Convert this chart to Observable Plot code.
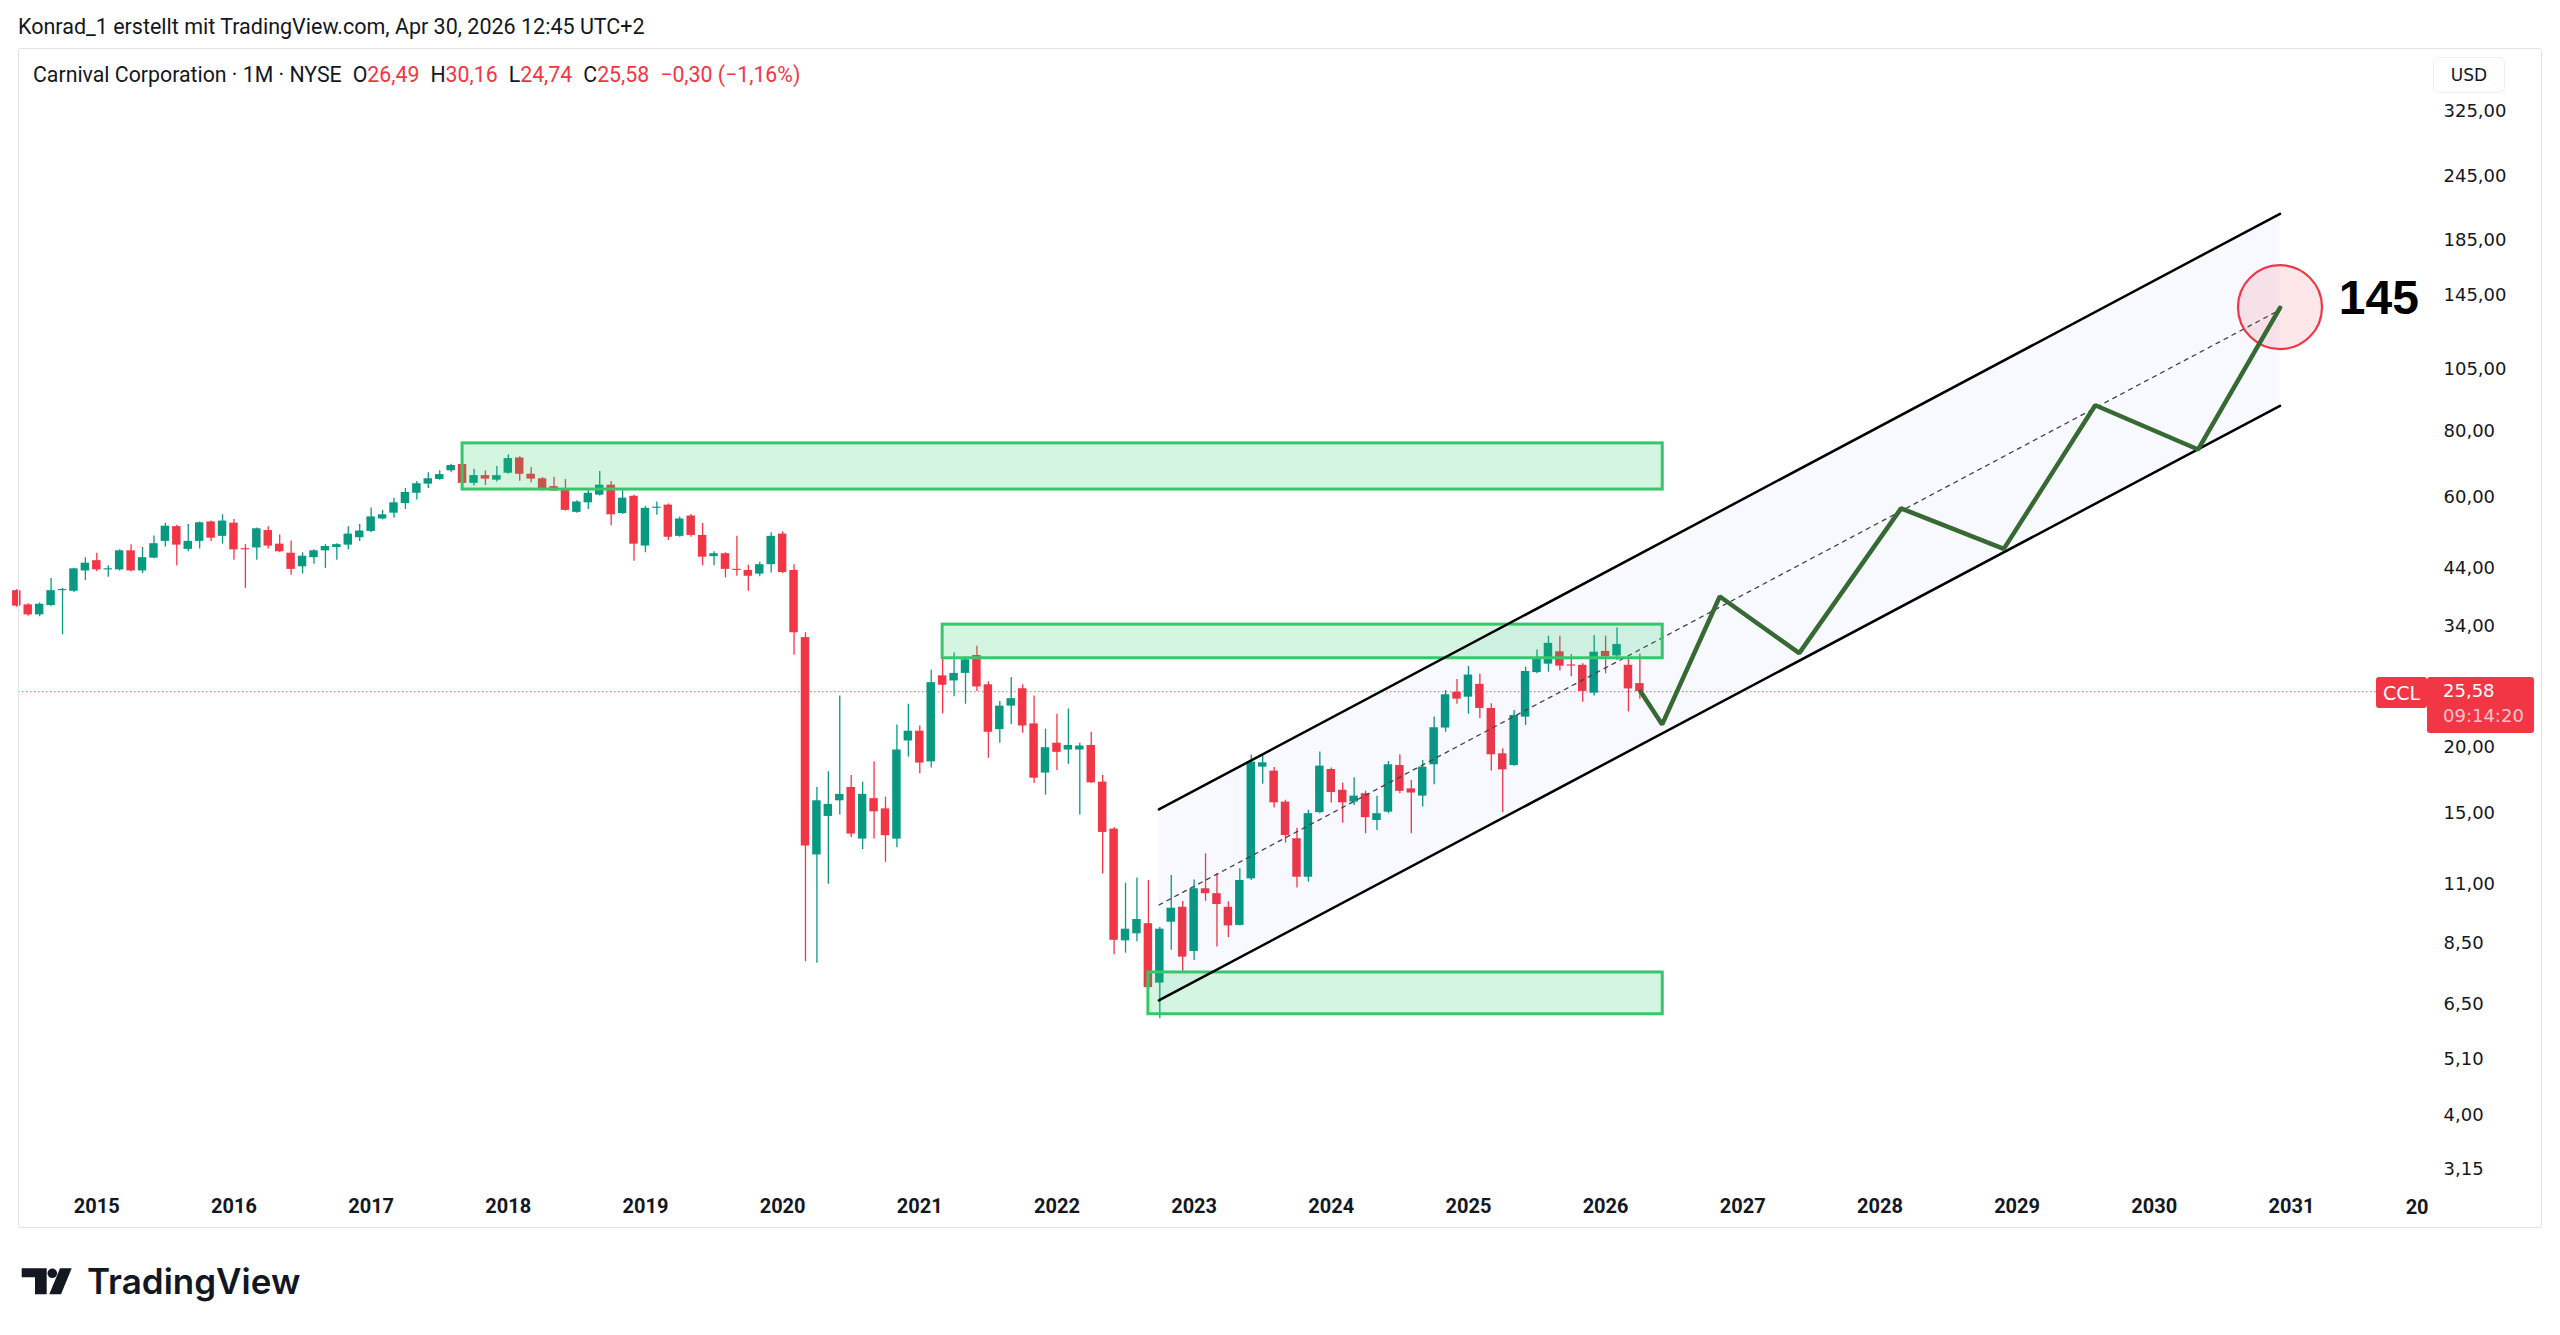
<!DOCTYPE html>
<html lang="de">
<head>
<meta charset="utf-8">
<title>Carnival Corporation · 1M · NYSE</title>
<script src="https://cdn.jsdelivr.net/npm/d3@7"></script>
<script src="https://cdn.jsdelivr.net/npm/@observablehq/plot@0.6"></script>
<style>
  html, body { margin:0; padding:0; background:#fff; }
  body { width:2560px; height:1335px; position:relative; overflow:hidden; font-family: Roboto, "Liberation Sans", sans-serif; color:#131722; }
  #hdr { position:absolute; left:18px; top:14px; font-size:21.5px; line-height:26px; white-space:nowrap; }
  #chart { position:absolute; left:18px; top:48px; }
  #frame { position:absolute; left:18px; top:48px; width:2524px; height:1180px; box-sizing:border-box; border:1px solid #e0e3eb; border-radius:3px; pointer-events:none; }
  #legend { position:absolute; left:33px; top:62px; font-size:21.3px; line-height:26px; white-space:nowrap; }
  #legend .v { color:#f23645; }
  #legend .g { margin-left:11px; }
  #usd { position:absolute; left:2433px; top:57px; width:72px; height:36px; border:1px solid #eceef3; border-radius:6px; box-sizing:border-box; font:17px "DejaVu Sans", sans-serif; display:flex; align-items:center; justify-content:center; background:#fff; color:#131722; }
  .tag { position:absolute; background:#f23645; color:#fff; border-radius:3px; font-family:"DejaVu Sans", sans-serif; font-size:18px; box-sizing:border-box; }
  #ccl { width:51px; height:31px; left:2376px; display:flex; align-items:center; justify-content:center; font-size:19px; }
  #pbox { width:107px; height:56px; left:2427px; padding-left:16px; }
  #pbox .l1 { position:absolute; left:16px; top:3px; line-height:22px; }
  #pbox .l2 { position:absolute; left:16px; top:28px; line-height:22px; color:rgba(255,255,255,0.72); }
  #logo { position:absolute; left:0; top:1260px; }
</style>
</head>
<body>
<div id="hdr">Konrad_1 erstellt mit TradingView.com, Apr 30, 2026 12:45 UTC+2</div>
<div id="chart"></div>
<div id="frame"></div>
<div id="legend"></div>
<div id="usd">USD</div>
<div id="ccl" class="tag">CCL</div>
<div id="pbox" class="tag"><span class="l1"></span><span class="l2">09:14:20</span></div>
<svg id="logo" width="320" height="44" viewBox="0 0 320 44">
  <path d="M21.7 8.3H46.7V34.3H35V17.3H21.7Z" fill="#131722"/>
  <circle cx="52.3" cy="13.3" r="4.8" fill="#131722"/>
  <path d="M60 8.3H71.7L61 34.3H49.3Z" fill="#131722"/>
  <text x="87" y="34.3" font-family="Inter, 'Liberation Sans', sans-serif" font-weight="600" font-size="35" fill="#131722">TradingView</text>
</svg>
<script>
// ---------- monthly candles (CCL, NYSE) ----------
const months = [
  "2014-06","2014-07","2014-08","2014-09","2014-10","2014-11","2014-12",
  "2015-01","2015-02","2015-03","2015-04","2015-05","2015-06","2015-07","2015-08","2015-09","2015-10","2015-11","2015-12",
  "2016-01","2016-02","2016-03","2016-04","2016-05","2016-06","2016-07","2016-08","2016-09","2016-10","2016-11","2016-12",
  "2017-01","2017-02","2017-03","2017-04","2017-05","2017-06","2017-07","2017-08","2017-09","2017-10","2017-11","2017-12",
  "2018-01","2018-02","2018-03","2018-04","2018-05","2018-06","2018-07","2018-08","2018-09","2018-10","2018-11","2018-12",
  "2019-01","2019-02","2019-03","2019-04","2019-05","2019-06","2019-07","2019-08","2019-09","2019-10","2019-11","2019-12",
  "2020-01","2020-02","2020-03","2020-04","2020-05","2020-06","2020-07","2020-08","2020-09","2020-10","2020-11","2020-12",
  "2021-01","2021-02","2021-03","2021-04","2021-05","2021-06","2021-07","2021-08","2021-09","2021-10","2021-11","2021-12",
  "2022-01","2022-02","2022-03","2022-04","2022-05","2022-06","2022-07","2022-08","2022-09","2022-10","2022-11","2022-12",
  "2023-01","2023-02","2023-03","2023-04","2023-05","2023-06","2023-07","2023-08","2023-09","2023-10","2023-11","2023-12",
  "2024-01","2024-02","2024-03","2024-04","2024-05","2024-06","2024-07","2024-08","2024-09","2024-10","2024-11","2024-12",
  "2025-01","2025-02","2025-03","2025-04","2025-05","2025-06","2025-07","2025-08","2025-09","2025-10","2025-11","2025-12",
  "2026-01","2026-02","2026-03","2026-04"
];
const open = [
  39.8, 37.4, 35.8, 37.3, 39.8, 39.7, 43.4,
  45.4, 43.6, 43.6, 47.4, 43.4, 45.9, 49.4, 52.7, 47.7, 49.4, 53.8, 50.5,
  53.5, 47.8, 48.0, 51.8, 48.8, 46.9, 44.2, 46.0, 47.4, 48.1, 48.6, 50.2,
  51.6, 54.5, 55.9, 58.3, 61.0, 63.5, 64.8, 67.3, 69.2, 63.7, 65.9, 64.6,
  66.6, 71.2, 66.3, 65.0, 62.8, 62.2, 56.1, 58.5, 60.5, 63.2, 55.8, 60.2,
  48.4, 57.1, 57.9, 50.5, 55.2, 50.7, 46.2, 46.8, 43.7, 43.5, 42.8, 44.6,
  51.0, 43.5, 32.4, 12.5, 14.8, 15.85, 16.8, 13.4, 16.0, 15.3, 13.4, 20.6,
  21.5, 18.8, 27.4, 26.8, 27.7, 29.96, 26.35, 21.65, 24.0, 25.9, 22.2, 17.9,
  20.4, 19.8, 19.8, 20.2, 17.2, 14.0, 8.58, 8.85, 9.25, 7.13, 9.31, 9.94,
  8.19, 10.78, 10.55, 9.94, 9.18, 11.26, 18.37, 18.05, 15.76, 13.42, 11.34, 15.05,
  18.18, 16.6, 15.76, 16.35, 14.54, 15.08, 18.5, 16.7, 16.18, 18.56, 21.8, 25.5,
  24.96, 26.4, 23.75, 19.47, 18.5, 22.87, 27.8, 28.85, 30.45, 28.7, 28.7, 25.4,
  30.5, 29.9, 28.7, 26.49
];
const high = [
  40.0, 37.6, 37.7, 42.0, 40.2, 43.9, 46.0,
  46.9, 44.4, 47.6, 48.7, 48.1, 50.6, 53.5, 53.0, 53.2, 53.8, 54.0, 55.5,
  54.4, 48.7, 52.4, 52.7, 50.8, 49.5, 47.0, 47.6, 48.7, 48.9, 52.7, 53.2,
  57.2, 56.6, 59.7, 62.3, 64.2, 66.7, 67.3, 69.3, 69.5, 67.8, 67.3, 68.6,
  72.2, 71.6, 68.3, 65.3, 65.4, 64.8, 59.0, 62.0, 67.1, 64.2, 62.0, 60.5,
  57.6, 58.7, 58.2, 55.0, 55.6, 53.4, 47.2, 47.0, 50.5, 44.5, 45.1, 51.3,
  51.5, 44.6, 33.1, 16.8, 18.0, 25.1, 17.7, 17.2, 18.8, 16.1, 22.1, 24.2,
  22.0, 28.1, 29.8, 30.3, 29.8, 31.2, 26.7, 24.5, 27.2, 26.35, 25.1, 21.7,
  23.15, 23.7, 20.4, 21.4, 17.7, 14.1, 11.05, 11.3, 11.18, 9.1, 11.43, 10.2,
  11.2, 12.57, 11.51, 10.18, 11.77, 19.36, 19.39, 18.33, 15.89, 14.05, 15.2, 19.62,
  18.3, 17.12, 17.53, 16.53, 16.17, 18.83, 19.39, 17.33, 18.91, 22.87, 25.7, 26.97,
  28.56, 27.6, 24.25, 19.9, 23.55, 28.47, 30.7, 32.6, 32.6, 30.1, 28.9, 32.7,
  32.6, 33.8, 29.5, 30.16
];
const low = [
  37.0, 35.6, 35.5, 37.1, 32.8, 39.5, 41.6,
  43.3, 42.2, 43.4, 43.2, 42.9, 45.8, 48.2, 44.4, 47.2, 47.8, 49.4, 48.8,
  45.5, 40.2, 45.5, 47.8, 47.0, 42.6, 42.8, 44.7, 43.9, 45.5, 47.6, 49.4,
  51.3, 54.3, 54.7, 56.8, 59.2, 62.3, 64.6, 66.7, 62.3, 63.0, 63.1, 64.1,
  66.3, 64.3, 63.9, 61.6, 61.5, 56.4, 55.9, 56.8, 60.3, 52.9, 55.6, 45.3,
  47.0, 55.4, 49.6, 50.3, 50.3, 44.4, 44.4, 42.1, 42.4, 39.7, 42.3, 43.0,
  42.9, 30.0, 7.83, 7.78, 11.0, 14.9, 13.5, 12.8, 13.4, 12.1, 12.9, 19.2,
  17.85, 18.3, 23.2, 25.0, 24.2, 25.6, 19.1, 20.4, 22.15, 21.3, 17.1, 16.25,
  18.1, 18.6, 14.9, 17.1, 11.5, 8.07, 8.13, 8.55, 6.95, 6.1, 8.23, 7.48,
  7.87, 10.2, 8.35, 8.7, 9.16, 11.18, 17.05, 15.35, 13.17, 10.82, 11.1, 14.98,
  15.7, 14.37, 15.52, 13.72, 13.91, 14.98, 16.35, 13.72, 15.42, 17.0, 21.4, 24.2,
  23.17, 22.7, 18.06, 15.04, 18.45, 22.05, 27.65, 27.85, 28.0, 27.3, 24.4, 25.1,
  27.65, 29.3, 23.4, 24.74
];
const close = [
  37.2, 35.8, 37.5, 39.8, 39.9, 43.8, 44.9,
  43.6, 43.7, 47.4, 43.4, 46.0, 48.9, 52.8, 48.6, 49.4, 53.6, 50.1, 54.0,
  47.6, 47.6, 52.2, 48.4, 47.2, 43.7, 46.3, 47.4, 48.3, 48.7, 51.0, 51.7,
  55.0, 55.5, 58.5, 61.2, 63.6, 65.0, 66.2, 68.9, 63.7, 65.9, 64.9, 65.9,
  71.0, 66.3, 64.9, 62.2, 61.6, 56.6, 58.7, 61.0, 63.2, 55.5, 59.7, 48.8,
  57.1, 57.2, 50.3, 54.5, 50.7, 46.1, 46.8, 43.7, 43.5, 42.4, 44.6, 50.5,
  43.1, 33.1, 13.0, 15.85, 15.6, 16.3, 13.7, 16.3, 15.1, 13.6, 19.8, 21.5,
  18.7, 26.6, 26.3, 27.7, 29.4, 26.1, 21.4, 24.0, 24.8, 22.0, 17.5, 20.0,
  19.6, 20.2, 20.15, 17.15, 13.8, 8.6, 9.03, 9.42, 6.99, 9.03, 9.9, 7.99,
  10.78, 10.55, 10.06, 9.16, 11.18, 18.78, 18.72, 15.71, 13.61, 11.34, 14.98, 18.45,
  16.44, 15.71, 16.18, 14.72, 14.98, 18.56, 16.52, 16.4, 18.37, 21.83, 25.22, 24.75,
  27.5, 23.76, 19.39, 18.15, 23.04, 27.93, 29.66, 31.6, 28.6, 28.6, 25.6, 30.4,
  29.8, 31.45, 25.88, 25.58
];

// ---------- drawings (decimal years / prices) ----------
const zoneStart = [2017.6667, 2021.1667, 2022.6667];
const zoneEnd   = [2026.4167, 2026.4167, 2026.4167];
const zoneLow   = [62.0, 29.6, 6.22];
const zoneHigh  = [75.9, 34.3, 7.47];

const channelT     = [2022.7433, 2030.9167];
const channelUpper = [15.26, 207.6];
const channelLower = [6.61, 89.5];
const channelMid   = [10.04, 136.3];

const pathT = [2026.255, 2026.4125, 2026.8325, 2027.4117, 2028.154, 2028.903, 2029.570, 2030.32, 2030.9167];
const pathP = [25.58, 22.15, 38.8, 30.27, 57.1, 47.8, 89.7, 73.9, 137.5];

const targetT = 2030.9167, targetP = 137.9, targetLabel = "145";

// ---------- axes ----------
const priceTicks = [325, 245, 185, 145, 105, 80, 60, 44, 34, 20, 15, 11, 8.5, 6.5, 5.1, 4, 3.15];
const yearTicks = [2015,2016,2017,2018,2019,2020,2021,2022,2023,2024,2025,2026,2027,2028,2029,2030,2031];
const cutYear = 2032, cutYearLabel = "20";

// ---------- build ----------
const toT = m => +m.slice(0, 4) + (+m.slice(5, 7) - 1) / 12;
const candles = months.map((m, k) => ({t: toT(m), o: open[k], h: high[k], l: low[k], c: close[k]}));
const UP = "#089981", DOWN = "#f23645";
const col = d => d.c >= d.o ? UP : DOWN;
const halfW = 0.37 / 12;
const fmt = v => v.toFixed(2).replace(".", ",");

const zones = zoneStart.map((s, k) => ({x1: s, x2: zoneEnd[k], y1: zoneLow[k], y2: zoneHigh[k]}));
const channel = channelT.map((t, k) => ({t, u: channelUpper[k], l: channelLower[k], m: channelMid[k]}));
const path = pathT.map((t, k) => ({t, p: pathP[k]}));
const last = candles[candles.length - 1];
const prev = candles[candles.length - 2];

const chart = Plot.plot({
  width: 2524, height: 1180,
  marginLeft: 0, marginRight: 112, marginTop: 63, marginBottom: 59,
  style: {background: "transparent", maxWidth: "none", overflow: "visible", color: "#131722"},
  x: {type: "linear", domain: [2014.4291, 2032.014], axis: null},
  y: {type: "log", domain: [3.15, 325], axis: null},
  color: {type: "identity"},
  marks: [
    Plot.ruleY([last.c], {stroke: "#f23645", strokeOpacity: 0.65, strokeWidth: 1.2, strokeDasharray: "1.5,2.5"}),
    Plot.ruleX(candles, {x: "t", y1: "l", y2: "h", stroke: col, strokeWidth: 1.3}),
    Plot.rect(candles, {
      x1: d => d.t - halfW, x2: d => d.t + halfW,
      y1: d => Math.min(d.o, d.c),
      y2: d => Math.max(d.o, d.c) / Math.min(d.o, d.c) < 1.005 ? Math.min(d.o, d.c) * 1.005 : Math.max(d.o, d.c),
      fill: col
    }),
    Plot.areaY(channel, {x: "t", y1: "l", y2: "u", fill: "#2962ff", fillOpacity: 0.035}),
    Plot.line(channel, {x: "t", y: "m", stroke: "#444", strokeWidth: 1.3, strokeDasharray: "4,5"}),
    Plot.rect(zones, {x1: "x1", x2: "x2", y1: "y1", y2: "y2", fill: "#29cc64", fillOpacity: 0.2, stroke: "#35c86a", strokeWidth: 3}),
    Plot.line(channel, {x: "t", y: "u", stroke: "#000", strokeWidth: 2.5}),
    Plot.line(channel, {x: "t", y: "l", stroke: "#000", strokeWidth: 2.5}),
    Plot.dot([{t: targetT, p: targetP}], {x: "t", y: "p", r: 42, fill: "#f23645", fillOpacity: 0.12, stroke: "#f23645", strokeWidth: 2.2}),
    Plot.line(path, {x: "t", y: "p", stroke: "#376933", strokeWidth: 4.5, strokeLinejoin: "miter"}),
    Plot.text([{t: 2031.345, p: 143}], {x: "t", y: "p", text: () => targetLabel, textAnchor: "start", fontSize: 48, fontWeight: "bold", fontFamily: "Liberation Sans, Arial, sans-serif", fill: "#000"}),
    Plot.axisY(priceTicks, {anchor: "right", tickSize: 0, tickPadding: 13, tickFormat: fmt, fontSize: 18, fontFamily: "DejaVu Sans, sans-serif"}),
    Plot.axisX(yearTicks, {anchor: "bottom", tickSize: 0, tickPadding: 29, tickFormat: d => String(d), fontSize: 20, fontWeight: "bold", fontFamily: "Roboto, sans-serif"}),
    Plot.text([cutYear], {x: d => d, frameAnchor: "bottom", text: () => cutYearLabel, textAnchor: "end", dy: 44, fontSize: 20, fontWeight: "bold", fontFamily: "Roboto, sans-serif", fill: "#131722"})
  ]
});
document.getElementById("chart").appendChild(chart);

// legend line
const lg = document.getElementById("legend");
const chg = last.c - prev.c, pct = chg / prev.c * 100;
const sgn = v => (v < 0 ? "\u2212" : "+") + fmt(Math.abs(v));
lg.innerHTML =
  `<span>Carnival Corporation · 1M · NYSE</span>` +
  `<span class="g">O<span class="v">${fmt(last.o)}</span></span>` +
  `<span class="g">H<span class="v">${fmt(last.h)}</span></span>` +
  `<span class="g">L<span class="v">${fmt(last.l)}</span></span>` +
  `<span class="g">C<span class="v">${fmt(last.c)}</span></span>` +
  `<span class="g v">${sgn(chg)} (${sgn(pct)}%)</span>`;

// price tags aligned to the y scale
const yc = 48 + chart.scale("y").apply(last.c);
const ccl = document.getElementById("ccl");
ccl.style.top = (yc - 14) + "px";
const pb = document.getElementById("pbox");
pb.style.top = (yc - 14) + "px";
pb.querySelector(".l1").textContent = fmt(last.c);
</script>
</body>
</html>
